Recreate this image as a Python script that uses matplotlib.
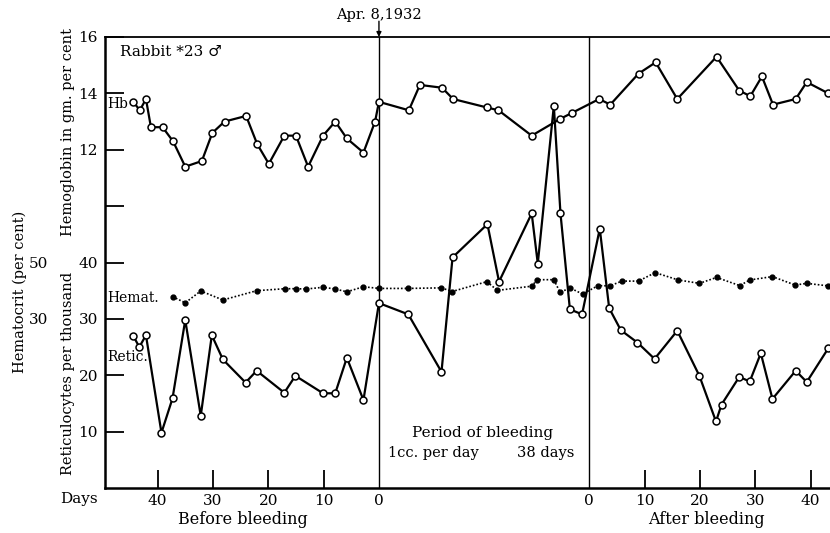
import matplotlib
matplotlib.use('Agg')
import matplotlib.pyplot as plt

plt.rcParams['font.family'] = ['DejaVu Serif', 'DejaVu Sans']

# time line in days from the start of bleeding:
# before-bleeding days are negative, after-bleeding day d sits at 38 + d
BLEED_DAYS = 38

hb_days = [-44.4, -43.2, -42.1, -41.2, -39.1, -37.2, -35.0, -32.0, -30.1, -27.9,
           -24.0, -22.0, -19.9, -17.1, -15.0, -12.8, -10.1, -7.9, -5.8, -2.8,
           -0.7, 0, 5.4, 7.4, 11.4, 13.4, 19.5, 21.6, 27.6, 32.8,
           34.8, 39.8, 41.8, 46.9, 50.0, 53.9, 61.0, 65.1, 67.1, 69.2,
           71.2, 75.3, 77.3, 81.2]
hb_values = [13.7, 13.4, 13.8, 12.8, 12.8, 12.3, 11.4, 11.6, 12.6, 13.0,
             13.2, 12.2, 11.5, 12.5, 12.5, 11.4, 12.5, 13.0, 12.4, 11.9,
             13.0, 13.7, 13.4, 14.3, 14.2, 13.8, 13.5, 13.4, 12.5, 13.1,
             13.3, 13.8, 13.6, 14.7, 15.1, 13.8, 15.3, 14.1, 13.9, 14.6,
             13.6, 13.8, 14.4, 14.0]

retic_days = [-44.4, -43.3, -42.1, -39.3, -37.3, -35.0, -32.2, -30.2, -28.2, -24.1,
              -22.1, -17.1, -15.1, -10.1, -7.9, -5.8, -2.8, 0, 5.3, 11.3,
              13.3, 19.6, 21.7, 27.6, 28.7, 31.6, 32.8, 34.5, 36.7, 39.9,
              41.6, 43.7, 46.7, 49.8, 53.9, 57.9, 60.9, 61.9, 65.1, 67.0,
              69.0, 71.1, 75.3, 77.3, 81.2]
retic_values = [27.0, 25.0, 27.1, 9.8, 15.9, 29.8, 12.8, 27.1, 22.8, 18.7,
                20.8, 16.9, 19.9, 16.8, 16.8, 23.1, 15.6, 32.8, 30.8, 20.6,
                40.9, 46.8, 36.6, 48.7, 39.8, 67.8, 48.7, 31.7, 30.8, 46.0,
                31.9, 28.0, 25.8, 22.9, 27.9, 19.9, 11.8, 14.8, 19.7, 18.9,
                23.9, 15.8, 20.8, 18.8, 24.8]

hct_days = [-37.3, -35.0, -32.2, -28.2, -22.1, -17.0, -15.0, -13.1, -10.1, -7.9,
            -5.8, -2.8, 0, 5.2, 11.3, 13.2, 19.5, 21.4, 27.6, 28.6,
            31.6, 32.7, 34.6, 36.8, 39.6, 41.7, 43.9, 46.9, 49.9, 54.1,
            57.9, 61.0, 65.2, 67.0, 71.1, 75.2, 77.3, 81.2]
hct_values = [37.9, 35.7, 39.9, 36.7, 40.0, 40.7, 40.7, 40.6, 41.2, 40.6,
              39.6, 41.4, 40.8, 40.8, 41.0, 39.7, 43.2, 40.1, 41.6, 43.9,
              43.9, 39.5, 40.9, 38.8, 41.8, 41.7, 43.4, 43.4, 46.4, 43.8,
              42.6, 44.7, 41.8, 43.8, 45.0, 42.0, 42.6, 41.7]

day_ticks = [40, 30, 20, 10]
retic_ticks = [10, 20, 30, 40]
hb_ticks = [12, 14, 16]
hct_ticks = [30, 50]

W, H = 830, 533
fig = plt.figure(figsize=(W / 100, H / 100), dpi=100)
ax = fig.add_axes([105 / W, 45 / H, 725 / W, 451 / H])

ax.set_xlim(-49.5, 81.5)
ax.set_ylim(0, 80)

# hemoglobin and hematocrit get their own scales on the same frame
ax_hb = ax.twinx()
ax_hb.set_ylim(0, 16)
ax_hct = ax.twinx()
ax_hct.set_ylim(-30, 130)

for a in (ax, ax_hb, ax_hct):
    a.spines['right'].set_visible(False)
ax.spines['left'].set_linewidth(1.8)
ax.spines['bottom'].set_linewidth(1.8)
ax.spines['top'].set_linewidth(1.3)
for a in (ax_hb, ax_hct):
    for s in ('left', 'top', 'bottom'):
        a.spines[s].set_visible(False)
ax_hb.set_yticks([])

# left axis: reticulocytes below, hemoglobin above
yt = retic_ticks + [50] + [h * 5 for h in hb_ticks]
ax.set_yticks(yt)
ax.set_yticklabels([str(v) for v in retic_ticks] + [''] + [str(v) for v in hb_ticks])
ax.tick_params(axis='y', direction='in', length=14, width=1.3, pad=5, labelsize=11)

# x axis: before bleeding / period / after bleeding
xt = [-d for d in day_ticks] + [BLEED_DAYS + d for d in day_ticks[::-1]]
ax.set_xticks(xt)
ax.set_xticklabels([str(d) for d in day_ticks] + [str(d) for d in day_ticks[::-1]])
ax.set_xticks([0, BLEED_DAYS], minor=True)
ax.set_xticklabels(['0', '0'], minor=True)
ax.tick_params(axis='x', which='major', direction='in', length=13, width=1.3,
               pad=4, labelsize=11)
ax.tick_params(axis='x', which='minor', length=0, pad=4, labelsize=11)

# hematocrit labels further out on the left
ax_hct.yaxis.tick_left()
ax_hct.spines['left'].set_position(('outward', 40))
ax_hct.set_yticks(hct_ticks)
ax_hct.tick_params(axis='y', length=0, pad=1, labelsize=11)

ax.axvline(0, color='black', lw=1.0)
ax.axvline(BLEED_DAYS, color='black', lw=1.0)

ax_hb.plot(hb_days, hb_values, color='black', lw=1.6, marker='o', ms=5,
           mfc='white', mec='black', mew=1.1)
ax.plot(retic_days, retic_values, color='black', lw=1.6, marker='o', ms=5,
        mfc='white', mec='black', mew=1.1)
ax_hct.plot(hct_days, hct_values, color='black', lw=1.2, ls=(0, (1, 1.2)),
            marker='o', ms=3.5, mfc='black', mec='black')

# annotations
ax.text(-46.8, 77.3, 'Rabbit *23 \u2642', fontsize=11, va='center', ha='left')
ax.text(-49.1, 68.1, 'Hb', fontsize=10, va='center', ha='left')
ax.text(-49.1, 33.7, 'Hemat.', fontsize=10, va='center', ha='left')
ax.text(-49.1, 23.2, 'Retic.', fontsize=10, va='center', ha='left')
ax.text(18.8, 9.8, 'Period of bleeding', fontsize=11, va='center', ha='center')
ax.text(1.6, 6.2, '1cc. per day', fontsize=10.5, va='center', ha='left')
ax.text(24.9, 6.2, '38 days', fontsize=10.5, va='center', ha='left')

ax.text(0, 83.9, 'Apr. 8,1932', fontsize=10.5, va='center', ha='center')
ax.annotate('', xy=(0, 80), xytext=(0, 82.8), annotation_clip=False,
            arrowprops=dict(arrowstyle='-|>', lw=1.0, color='black',
                            mutation_scale=7, shrinkA=0, shrinkB=0))

fig.text(60 / W, 1 - 499 / H, 'Days', fontsize=11, va='center', ha='left')
fig.text(243 / W, 1 - 520 / H, 'Before bleeding', fontsize=11.5, va='center', ha='center')
fig.text(706 / W, 1 - 520 / H, 'After bleeding', fontsize=11.5, va='center', ha='center')

fig.text(68 / W, 1 - 132 / H, 'Hemoglobin in gm. per cent', fontsize=10.5,
         rotation=90, va='center', ha='center')
fig.text(68 / W, 1 - 373 / H, 'Reticulocytes per thousand', fontsize=10.5,
         rotation=90, va='center', ha='center')
fig.text(20 / W, 1 - 292 / H, 'Hematocrit (per cent)', fontsize=10.5,
         rotation=90, va='center', ha='center')

fig.savefig('out.png', dpi=100)
